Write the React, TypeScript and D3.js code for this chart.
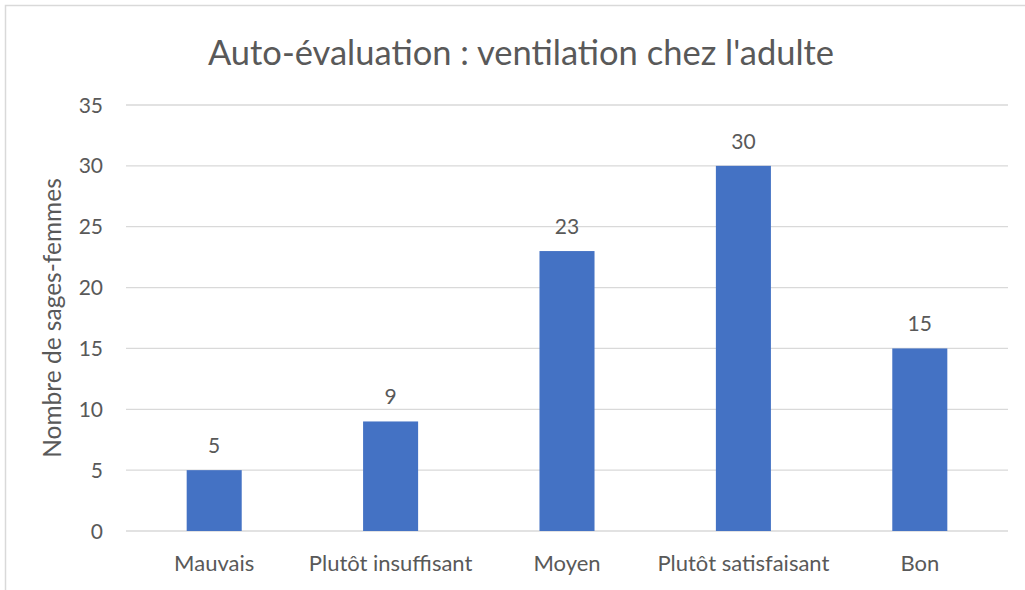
import React from "react";
import * as d3 from "d3";

const title = "Auto-évaluation : ventilation chez l'adulte";
const yAxisTitle = "Nombre de sages-femmes";
const categories = ["Mauvais", "Plutôt insuffisant", "Moyen", "Plutôt satisfaisant", "Bon"];
const values = [5, 9, 23, 30, 15];
const yTicks = [0, 5, 10, 15, 20, 25, 30, 35];

const W = 1025;
const H = 590;
const FONT = "Lato, 'Noto Sans', sans-serif";
const TEXT = "#595959";

export default function App() {
  const margin = { left: 126, right: 17, top: 105, bottom: 59 };
  const x = d3
    .scaleBand<string>()
    .domain(categories)
    .range([margin.left, W - margin.right])
    .paddingInner(0.688)
    .paddingOuter(0.344);
  const y = d3.scaleLinear().domain([0, 35]).range([H - margin.bottom, margin.top]);
  const cx = (c: string) => (x(c) as number) + x.bandwidth() / 2;

  return (
    <svg
      width={W}
      height={H}
      style={{ position: "absolute", left: 0, top: 0, background: "#fff" }}
      fontFamily={FONT}
    >
      <rect x={0} y={0} width={W} height={H} fill="#fff" />
      <rect x={5.5} y={5.5} width={W + 10} height={H + 10} fill="none" stroke="#d9d9d9" strokeWidth={1.5} />
      <text x={521} y={65} textAnchor="middle" fontSize={34.5} fill={TEXT}>
        {title}
      </text>
      {yTicks.map((t) => (
        <g key={t}>
          <line x1={margin.left} x2={W - margin.right} y1={y(t)} y2={y(t)} stroke="#d9d9d9" strokeWidth={1.3} />
          <text x={103} y={y(t) + 7.5} textAnchor="end" fontSize={21} fill={TEXT}>
            {t}
          </text>
        </g>
      ))}
      <text
        transform={`translate(61, ${(y(0) + y(35)) / 2}) rotate(-90)`}
        textAnchor="middle"
        fontSize={24.5}
        fill={TEXT}
      >
        {yAxisTitle}
      </text>
      {categories.map((c, i) => (
        <g key={c}>
          <rect x={x(c)} y={y(values[i])} width={x.bandwidth()} height={y(0) - y(values[i])} fill="#4472c4" />
          <text x={cx(c)} y={y(values[i]) - 17} textAnchor="middle" fontSize={21} fill={TEXT}>
            {values[i]}
          </text>
          <text x={cx(c)} y={571} textAnchor="middle" fontSize={22} fill={TEXT}>
            {c}
          </text>
        </g>
      ))}
    </svg>
  );
}
